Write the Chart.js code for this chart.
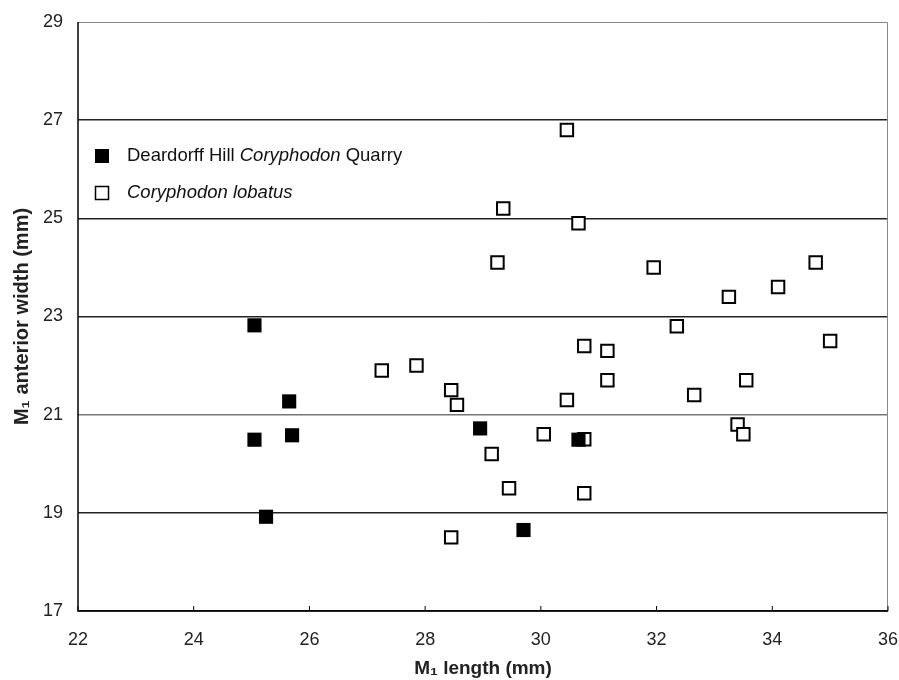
<!DOCTYPE html>
<html>
<head>
<meta charset="utf-8">
<script src="https://cdn.jsdelivr.net/npm/chart.js@4.4.1/dist/chart.umd.min.js"></script>
<style>
  html, body { margin: 0; padding: 0; background: #fff; }
  #wrap { width: 899px; height: 680px; }
</style>
</head>
<body>
<div id="wrap"><canvas id="m1Chart"></canvas></div>
<script>
const deardorffX = [25.05, 25.65, 25.05, 25.7, 25.25, 28.95, 29.7, 30.65];
const deardorffY = [22.82, 21.27, 20.49, 20.58, 18.92, 20.72, 18.65, 20.49];

const lobatusX = [30.45, 29.35, 30.65, 29.25, 31.95, 34.75, 34.1, 33.25, 32.35, 35.0,
  27.25, 27.85, 28.45, 28.55, 30.75, 31.15, 31.15, 33.55, 32.65, 30.45,
  30.05, 30.75, 33.4, 33.5, 29.15, 29.45, 30.75, 28.45];
const lobatusY = [26.8, 25.2, 24.9, 24.1, 24.0, 24.1, 23.6, 23.4, 22.8, 22.5,
  21.9, 22.0, 21.5, 21.2, 22.4, 22.3, 21.7, 21.7, 21.4, 21.3,
  20.6, 20.5, 20.8, 20.6, 20.2, 19.5, 19.4, 18.5];

const xTicks = [22, 24, 26, 28, 30, 32, 34, 36];
const yTicks = [17, 19, 21, 23, 25, 27, 29];

const toPoints = (xs, ys) => xs.map((x, i) => ({ x, y: ys[i] }));

// legend entries: text pieces, italic flag
const legendRows = [
  { filled: true, parts: [["Deardorff Hill ", false], ["Coryphodon", true], [" Quarry", false]] },
  { filled: false, parts: [["Coryphodon lobatus", true]] },
];

const FONT = "'Liberation Sans', Arial, sans-serif";

const framePlugin = {
  id: "frame",
  afterDatasetsDraw(chart) {
    const { ctx, chartArea: a } = chart;
    ctx.save();
    ctx.strokeStyle = "#888";
    ctx.lineWidth = 1;
    ctx.beginPath();
    ctx.moveTo(a.left, a.top + 0.5);
    ctx.lineTo(a.right - 0.5, a.top + 0.5);
    ctx.lineTo(a.right - 0.5, a.bottom);
    ctx.stroke();
    ctx.strokeStyle = "#000";
    ctx.lineWidth = 1.5;
    ctx.beginPath();
    ctx.moveTo(a.left, a.top);
    ctx.lineTo(a.left, a.bottom);
    ctx.lineTo(a.right, a.bottom);
    ctx.stroke();
    // small inward ticks on x axis
    const xs = chart.scales.x;
    ctx.lineWidth = 1;
    xTicks.forEach(v => {
      const px = xs.getPixelForValue(v);
      ctx.beginPath();
      ctx.moveTo(px, a.bottom);
      ctx.lineTo(px, a.bottom - 5);
      ctx.stroke();
    });
    ctx.restore();
  },
  afterDraw(chart) {
    const { ctx, chartArea: a } = chart;
    ctx.save();
    ctx.textBaseline = "middle";
    legendRows.forEach((row, i) => {
      const cy = a.top + 134 + i * 37;
      const mx = a.left + 24;
      if (row.filled) {
        ctx.fillStyle = "#000";
        ctx.fillRect(mx - 7, cy - 7, 14, 14);
      } else {
        ctx.strokeStyle = "#000";
        ctx.lineWidth = 1.5;
        ctx.fillStyle = "#fff";
        ctx.fillRect(mx - 7, cy - 7, 14, 14);
        ctx.strokeRect(mx - 6.5, cy - 6.5, 13, 13);
      }
      let tx = a.left + 49;
      ctx.fillStyle = "#111";
      row.parts.forEach(([txt, it]) => {
        ctx.font = (it ? "italic " : "") + "18.5px " + FONT;
        ctx.fillText(txt, tx, cy);
        tx += ctx.measureText(txt).width;
      });
    });
    ctx.restore();
  },
};

new Chart(document.getElementById("m1Chart"), {
  type: "scatter",
  data: {
    datasets: [
      {
        label: "Deardorff Hill Coryphodon Quarry",
        data: toPoints(deardorffX, deardorffY),
        pointStyle: "rect",
        pointRadius: 10,
        pointBackgroundColor: "#000",
        pointBorderColor: "#000",
        pointBorderWidth: 0,
      },
      {
        label: "Coryphodon lobatus",
        data: toPoints(lobatusX, lobatusY),
        pointStyle: "rect",
        pointRadius: 8.8,
        pointBackgroundColor: "#fff",
        pointBorderColor: "#000",
        pointBorderWidth: 2,
      },
    ],
  },
  options: {
    responsive: true,
    maintainAspectRatio: false,
    animation: false,
    layout: { padding: { top: 22, right: 11, left: 0, bottom: 0 } },
    plugins: {
      legend: { display: false },
      tooltip: { enabled: false },
    },
    scales: {
      x: {
        type: "linear",
        min: 22,
        max: 36,
        afterBuildTicks(scale) {
          scale.ticks = xTicks.map(v => ({ value: v }));
        },
        afterFit(scale) {
          scale.height = 69;
          scale.paddingLeft = 0;
          scale.paddingRight = 0;
        },
        grid: { display: false, drawTicks: false },
        border: { display: false },
        ticks: {
          padding: 18,
          color: "#222",
          font: { family: FONT, size: 18 },
        },
        title: {
          display: true,
          text: "M\u2081 length (mm)",
          color: "#222",
          padding: { top: 2, bottom: 0 },
          font: { family: FONT, size: 19, weight: "bold" },
        },
      },
      y: {
        type: "linear",
        min: 17,
        max: 29,
        afterBuildTicks(scale) {
          scale.ticks = yTicks.map(v => ({ value: v }));
        },
        afterFit(scale) {
          scale.width = 78;
          scale.paddingTop = 0;
          scale.paddingBottom = 0;
        },
        grid: {
          drawTicks: false,
          color: ctx => (ctx.tick && ctx.tick.value === 21 ? "#777" : "#222"),
          lineWidth: ctx => (ctx.tick && ctx.tick.value === 29 ? 0 : 1.5),
        },
        border: { display: false },
        ticks: {
          padding: 15,
          color: "#222",
          font: { family: FONT, size: 18 },
        },
        title: {
          display: true,
          text: "M\u2081 anterior width (mm)",
          color: "#222",
          padding: { top: 10, bottom: 4 },
          font: { family: FONT, size: 20, weight: "bold" },
        },
      },
    },
  },
  plugins: [framePlugin],
});
</script>
</body>
</html>
